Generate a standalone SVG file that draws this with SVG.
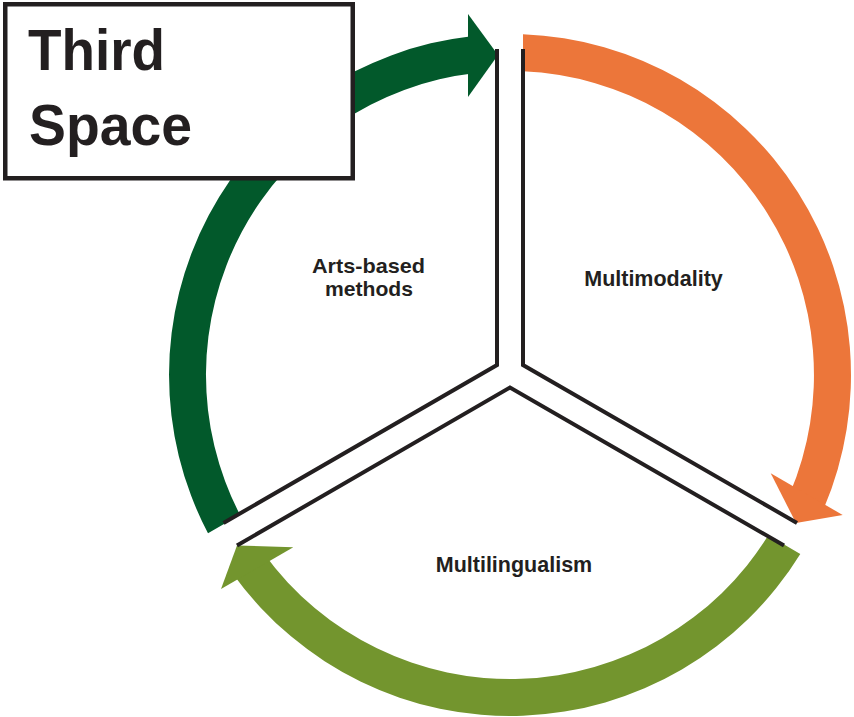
<svg xmlns="http://www.w3.org/2000/svg" width="854" height="717" viewBox="0 0 854 717">
  <style>
    .lbl { font-family: "Liberation Sans", Arial, sans-serif; font-weight: bold; font-size: 21.5px; fill: #231F20; text-anchor: middle; }
    .lbl2 { font-family: "Liberation Sans", Arial, sans-serif; font-weight: bold; font-size: 20.5px; fill: #231F20; text-anchor: middle; }
    .title { font-family: "Liberation Sans", Arial, sans-serif; font-weight: bold; font-size: 58px; fill: #231F20; }
    .div { fill: none; stroke: #231F20; stroke-width: 4; stroke-linejoin: miter; }
    .orange { fill: #EC763A; }
    .lgreen { fill: #73952E; }
    .dgreen { fill: #02592B; }
  </style>
  <rect width="854" height="717" fill="#ffffff"/>
  <g id="connectors">
    <g id="arrow-orange" class="orange">
      <path d="M 523 34.25 A 341 341 0 0 1 823.9 508.2 L 789.8 493.8 A 304 304 0 0 0 523 71.3 Z"/>
      <polygon points="770.7,473.3 796,523 842.7,515"/>
    </g>
    <g id="arrow-lightgreen" class="lgreen">
      <path d="M 800.3 553.9 A 341 341 0 0 1 234.1 575.4 L 264.1 553.7 A 304 304 0 0 0 768.3 535.35 Z"/>
      <polygon points="293.3,547.3 237,545.5 221,589"/>
    </g>
    <g id="arrow-darkgreen" class="dgreen">
      <path d="M 208 533.3 A 341 341 0 0 1 471.4 36.2 L 475.6 73 A 304 304 0 0 0 240 514.8 Z"/>
      <polygon points="468,97 498,55 468,14"/>
    </g>
    <g id="dividers">
      <polyline class="div" points="497,49 497,365 223.5,523"/>
      <polyline class="div" points="523,49 523,365 797,523"/>
      <polyline class="div" points="237,545.5 510,387.5 784,545.5"/>
    </g>
  </g>
  <g id="node-third-space">
    <rect x="5.25" y="4.25" width="347.5" height="174" fill="#ffffff" stroke="#231F20" stroke-width="4.5"/>
    <text class="title" x="28" y="70" textLength="137" lengthAdjust="spacingAndGlyphs">Third</text>
    <text class="title" x="29" y="145" textLength="163" lengthAdjust="spacingAndGlyphs">Space</text>
  </g>
  <g id="node-arts-based">
    <text class="lbl2" x="368.5" y="273" textLength="113" lengthAdjust="spacingAndGlyphs">Arts-based</text>
    <text class="lbl2" x="369" y="296" textLength="88" lengthAdjust="spacingAndGlyphs">methods</text>
  </g>
  <g id="node-multimodality">
    <text class="lbl" x="653.5" y="286">Multimodality</text>
  </g>
  <g id="node-multilingualism">
    <text class="lbl" x="514" y="572">Multilingualism</text>
  </g>
</svg>
